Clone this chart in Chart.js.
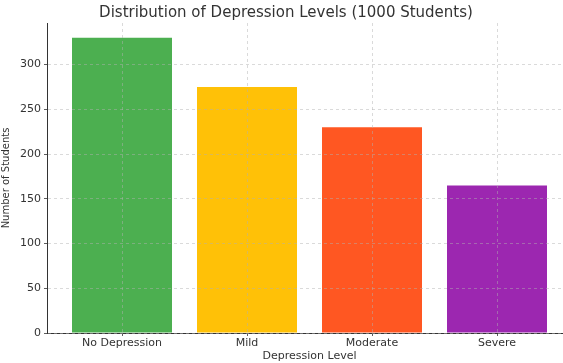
<!DOCTYPE html>
<html>
<head>
<meta charset="utf-8">
<script src="https://cdn.jsdelivr.net/npm/chart.js@4"></script>
<style>
  html, body { margin: 0; padding: 0; background: #fff; overflow: hidden; }
  /* the reference figure is cropped on the right, so the canvas is a bit wider than the window */
  .chart-box { width: 575px; height: 363px; }
</style>
</head>
<body>
<div class="chart-box"><canvas id="myChart"></canvas></div>
<script>
// ---------- data ----------
const levels = ['No Depression', 'Mild', 'Moderate', 'Severe'];
const students = [330, 275, 230, 165];
const barColors = ['#4CAF50', '#FFC107', '#FF5722', '#9C27B0'];
const yTicks = [0, 50, 100, 150, 200, 250, 300];

const textColor = '#333333';
const gridColor = 'rgba(176,176,176,0.6)';
const fontFamily = "'DejaVu Sans', sans-serif";

const ctx = document.getElementById('myChart');

const data = {
  datasets: [{
    data: levels.map((name, i) => ({ x: i, y: students[i] })),
    backgroundColor: barColors,
    borderWidth: 0,
    barPercentage: 0.8,
    categoryPercentage: 1
  }]
};

const options = {
  responsive: true,
  maintainAspectRatio: false,
  animation: false,
  layout: { padding: { left: 0, right: 3, top: 0, bottom: 0 } },
  plugins: {
    legend: { display: false },
    tooltip: { enabled: false },
    title: {
      display: true,
      text: 'Distribution of Depression Levels (1000 Students)',
      color: textColor,
      font: { family: fontFamily, size: 15, weight: 'normal' },
      padding: { top: 4, bottom: 1 }
    }
  },
  scales: {
    x: {
      type: 'linear',
      min: -0.6,
      max: 3.6,
      offset: false,
      afterBuildTicks: (scale) => { scale.ticks = levels.map((n, i) => ({ value: i })); },
      afterFit: (scale) => { scale.height = 30; },
      ticks: {
        callback: (value) => levels[value],
        color: textColor,
        font: { family: fontFamily, size: 11 },
        padding: 1,
        maxRotation: 0,
        autoSkip: false
      },
      grid: {
        offset: false,
        color: gridColor,
        lineWidth: 0.8,
        tickColor: textColor,
        tickLength: 3,
        z: 1
      },
      border: { display: true, color: textColor, width: 1, dash: [3, 3], z: 1 },
      title: {
        display: true,
        text: 'Depression Level',
        color: textColor,
        font: { family: fontFamily, size: 11 },
        padding: { top: 0, bottom: 0 }
      }
    },
    y: {
      min: 0,
      max: 346.5,
      afterBuildTicks: (scale) => { scale.ticks = yTicks.map(v => ({ value: v })); },
      afterFit: (scale) => { scale.width = 47; },
      ticks: {
        color: textColor,
        font: { family: fontFamily, size: 11 },
        padding: 3
      },
      grid: {
        color: gridColor,
        lineWidth: 0.8,
        tickColor: textColor,
        tickLength: 3,
        z: 1
      },
      border: { display: true, color: textColor, width: 1, dash: [3, 3], z: 1 },
      title: {
        display: true,
        text: 'Number of Students',
        color: textColor,
        font: { family: fontFamily, size: 10 },
        padding: { top: 0, bottom: 2 }
      }
    }
  }
};

const chart = new Chart(ctx, {
  type: 'bar',
  data: data,
  options: options
});
</script>
</body>
</html>
